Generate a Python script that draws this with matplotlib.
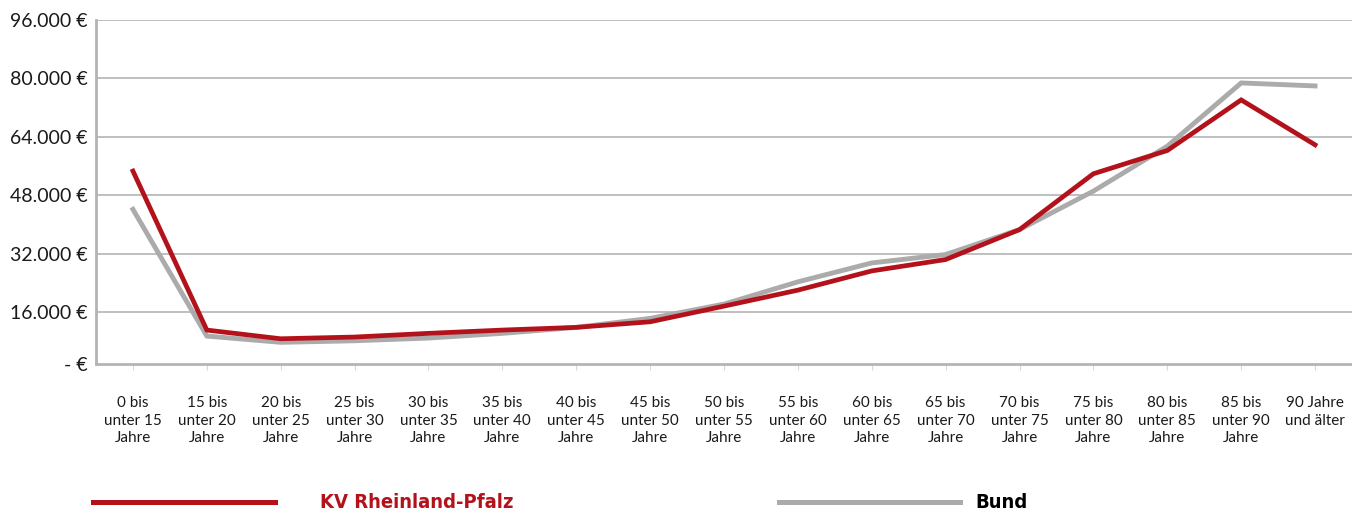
import matplotlib
matplotlib.use('Agg')
import matplotlib.pyplot as plt
from matplotlib.lines import Line2D

categories = [
    '0 bis\nunter 15\nJahre', '15 bis\nunter 20\nJahre', '20 bis\nunter 25\nJahre',
    '25 bis\nunter 30\nJahre', '30 bis\nunter 35\nJahre', '35 bis\nunter 40\nJahre',
    '40 bis\nunter 45\nJahre', '45 bis\nunter 50\nJahre', '50 bis\nunter 55\nJahre',
    '55 bis\nunter 60\nJahre', '60 bis\nunter 65\nJahre', '65 bis\nunter 70\nJahre',
    '70 bis\nunter 75\nJahre', '75 bis\nunter 80\nJahre', '80 bis\nunter 85\nJahre',
    '85 bis\nunter 90\nJahre', '90 Jahre\nund älter',
]
kv_rlp = [54600, 11030, 8650, 9120, 10130, 11030, 11770, 13300, 17590,
          21970, 27240, 30360, 38560, 53870, 60240, 74100, 61800]
bund = [44110, 9390, 7670, 8100, 8840, 10130, 11770, 14230, 18140,
        24240, 29430, 31730, 38560, 49110, 61420, 78750, 77930]
ytick_values = [16000, 32000, 48000, 64000, 80000, 96000]
y_bottom = 1650

RED = '#B3121B'
GREY = '#ABABAB'
GRID = '#B4B4B4'

plt.rcParams['font.family'] = ['Lato', 'DejaVu Sans']

fig = plt.figure(figsize=(13.52, 5.16), dpi=100)
ax = fig.add_axes([96 / 1352, 1 - 364.3 / 516, 1 - 96 / 1352, (364.3 - 20) / 516])

x = list(range(len(categories)))
ax.plot(x, bund, color=GREY, lw=3.5, solid_joinstyle='miter', zorder=3)
ax.plot(x, kv_rlp, color=RED, lw=3.4, solid_joinstyle='miter', zorder=4)

ax.set_xlim(-0.5, len(categories) - 0.5)
ax.set_ylim(y_bottom, 96000)

ax.set_yticks([y_bottom] + ytick_values)
ax.set_yticklabels(['- €'] + ['{:,.0f} €'.format(v).replace(',', '.') for v in ytick_values])
for v in ytick_values:
    ax.axhline(v, color=GRID, lw=1.2, zorder=1)

ax.set_xticks(x)
ax.set_xticklabels(categories, fontsize=11, linespacing=1.3)

for side in ['top', 'right']:
    ax.spines[side].set_visible(False)
for side in ['left', 'bottom']:
    ax.spines[side].set_color(GRID)
    ax.spines[side].set_linewidth(2)

ax.tick_params(axis='y', length=0, pad=6, labelsize=14, labelcolor='#1a1a1a')
ax.tick_params(axis='x', length=4, width=0.8, color='#D8D8D8', pad=19, labelcolor='#1a1a1a')

# legend drawn by hand, positions in figure pixels
def fx(px):
    return px / 1352

def fy(py):
    return 1 - py / 516

legend_font = dict(fontsize=14.5, fontweight='bold', fontstretch='condensed',
                   family=['DejaVu Sans'], va='center')
fig.add_artist(Line2D([fx(93), fx(275)], [fy(502), fy(502)], color=RED, lw=3.6))
fig.text(fx(320), fy(503), 'KV Rheinland-Pfalz', color=RED, **legend_font)
fig.add_artist(Line2D([fx(779), fx(960)], [fy(502), fy(502)], color=GREY, lw=3.6))
fig.text(fx(975), fy(503), 'Bund', color='black', **legend_font)

fig.savefig('out.png', dpi=100)
